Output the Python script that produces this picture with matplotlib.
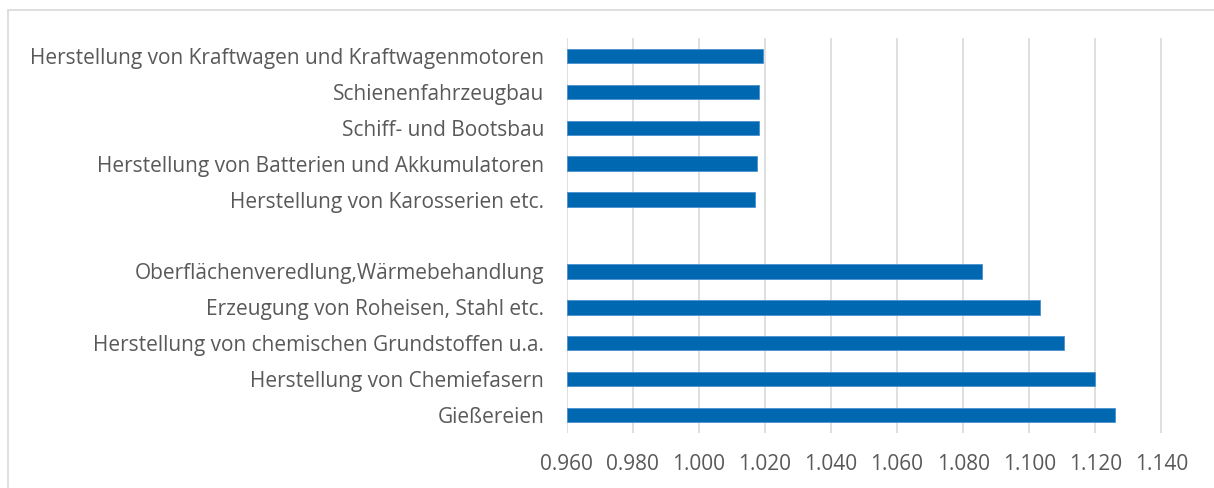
import matplotlib
matplotlib.use("Agg")
import matplotlib.pyplot as plt
from matplotlib.patches import Rectangle

# Kategorien von oben nach unten, "" = Lücke zwischen den Gruppen
categories = [
    "Herstellung von Kraftwagen und Kraftwagenmotoren",
    "Schienenfahrzeugbau",
    "Schiff- und Bootsbau",
    "Herstellung von Batterien und Akkumulatoren",
    "Herstellung von Karosserien etc.",
    "",
    "Oberflächenveredlung,Wärmebehandlung",
    "Erzeugung von Roheisen, Stahl etc.",
    "Herstellung von chemischen Grundstoffen u.a.",
    "Herstellung von Chemiefasern",
    "Gießereien",
]
values = [1.0193, 1.0183, 1.0181, 1.0175, 1.0170, None,
          1.0856, 1.1031, 1.1105, 1.1200, 1.1258]

x_ticks = [0.96, 0.98, 1.00, 1.02, 1.04, 1.06, 1.08, 1.10, 1.12, 1.14]

BAR_COLOR = "#0068b1"
TEXT_COLOR = "#595959"
GRID_COLOR = "#d9d9d9"

plt.rcParams["font.family"] = ["Open Sans", "DejaVu Sans"]

fig = plt.figure(figsize=(12.14, 4.88), dpi=100)
ax = fig.add_axes([566.5 / 1214, 1 - 433 / 488, 595 / 1214, 395 / 488])

# Rahmen um das Diagramm
fig.patches.append(Rectangle((8 / 1214, -0.05), 1.2, 1 - 10 / 488 + 0.05,
                             transform=fig.transFigure, fill=False,
                             edgecolor=GRID_COLOR, linewidth=1.2))

left = x_ticks[0]
for i, v in enumerate(values):
    if v is None:
        continue
    ax.barh(i, v - left, left=left, height=0.4, color=BAR_COLOR,
            edgecolor="#4a90d0", linewidth=0.6, zorder=3)

ax.set_xlim(x_ticks[0], x_ticks[-1])
ax.set_ylim(10.5, -0.5)
ax.set_xticks(x_ticks)
ax.set_xticklabels([f"{t:.3f}" for t in x_ticks])
ax.set_yticks(range(len(categories)))
ax.set_yticklabels(categories)

ax.tick_params(axis="both", length=0, colors=TEXT_COLOR, labelsize=15)
ax.tick_params(axis="y", pad=16)
ax.tick_params(axis="x", pad=15)
ax.grid(axis="x", color=GRID_COLOR, linewidth=1.2, zorder=0)
for s in ax.spines.values():
    s.set_visible(False)

fig.savefig("out.png", dpi=100, facecolor="white")
